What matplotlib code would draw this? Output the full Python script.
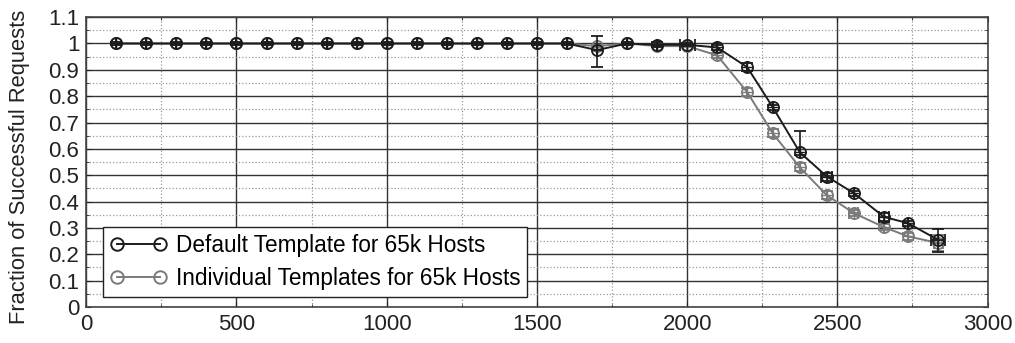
"""
Fraction of successful requests vs. request rate, default vs. individual templates.
"""
import numpy as np
import matplotlib.pyplot as plt
from matplotlib.lines import Line2D
from matplotlib.ticker import MultipleLocator

plt.rcParams["font.family"] = ["Liberation Sans", "DejaVu Sans"]
plt.rcParams["font.size"] = 14

# === Data ===
X = [100, 200, 300, 400, 500, 600, 700, 800, 900, 1000, 1100, 1200, 1300, 1400,
     1500, 1600, 1700, 1800, 1900, 2000, 2100, 2200, 2285, 2375, 2465, 2555,
     2655, 2735, 2835]

DEFAULT_Y = [1.0, 1.0, 1.0, 1.0, 1.0, 1.0, 1.0, 1.0, 1.0, 1.0, 1.0, 1.0, 1.0, 1.0,
             1.0, 1.0, 0.975, 1.0, 0.995, 0.995, 0.985, 0.91, 0.758, 0.587, 0.495,
             0.432, 0.342, 0.318, 0.255]
DEFAULT_YERR_LO = [0.005] * 16 + [0.065, 0.005, 0.01, 0.005, 0.01, 0.015, 0.01,
                                  0.01, 0.015, 0.01, 0.015, 0.01, 0.045]
DEFAULT_YERR_HI = [0.005] * 16 + [0.055, 0.005, 0.01, 0.005, 0.01, 0.015, 0.01,
                                  0.08, 0.015, 0.01, 0.015, 0.01, 0.04]
DEFAULT_XERR = [0] * 19 + [25, 0, 0, 0, 0, 18, 0, 18, 0, 22]

INDIV_Y = [1.0, 1.0, 1.0, 1.0, 1.0, 1.0, 1.0, 1.0, 1.0, 1.0, 1.0, 1.0, 1.0, 1.0,
           1.0, 1.0, 0.99, 1.0, 0.99, 0.99, 0.955, 0.815, 0.659, 0.53, 0.424,
           0.356, 0.303, 0.268, 0.243]
INDIV_YERR = [0.005] * 20 + [0.01, 0.015, 0.015, 0.015, 0.015, 0.012, 0.012,
                             0.012, 0.03]
INDIV_XERR = [0] * 25 + [15, 0, 0, 15]

LABELS = ["Default Template for 65k Hosts", "Individual Templates for 65k Hosts"]

DARK = "#1c1c1c"
GRAY = "#7a7a7a"


def draw_series(ax, y, yerr, xerr, color, z):
    ax.errorbar(X, y, yerr=yerr, xerr=xerr, fmt="-o", color=color, mfc="none",
                mec=color, ms=8, mew=1.3, lw=1.4, capsize=4, elinewidth=1.2,
                zorder=z)
    ax.plot(X, y, "+", color=color, ms=8, mew=1.0, zorder=z)


def main():
    fig, ax = plt.subplots(figsize=(10.15, 3.43), dpi=100)
    fig.subplots_adjust(left=0.085, right=0.973, top=0.95, bottom=0.105)

    draw_series(ax, INDIV_Y, INDIV_YERR, INDIV_XERR, GRAY, 3)
    draw_series(ax, DEFAULT_Y, [DEFAULT_YERR_LO, DEFAULT_YERR_HI], DEFAULT_XERR,
                DARK, 4)

    ax.set_xlim(0, 3000)
    ax.set_ylim(0, 1.1)
    ax.xaxis.set_major_locator(MultipleLocator(500))
    ax.xaxis.set_minor_locator(MultipleLocator(250))
    ax.yaxis.set_minor_locator(MultipleLocator(0.05))
    ax.set_yticks(np.arange(0, 1.11, 0.1))
    ax.set_yticklabels(["0", "0.1", "0.2", "0.3", "0.4", "0.5", "0.6", "0.7",
                        "0.8", "0.9", "1", "1.1"])

    ax.grid(which="major", color="#333333", linestyle="-", linewidth=1.0)
    ax.grid(which="minor", color="#999999", linestyle=":", linewidth=0.9)
    ax.set_axisbelow(True)
    ax.tick_params(which="both", direction="in", top=True, right=True,
                   labelsize=16, colors="#222222", pad=5)
    for sp in ax.spines.values():
        sp.set_color("#444444")
        sp.set_linewidth(1.2)

    ax.set_ylabel("Fraction of Successful Requests", fontsize=15.8,
                  color="#222222")
    ax.yaxis.set_label_coords(-0.062, 0.485)

    handles = [
        Line2D([], [], color=DARK, marker="o", mfc="none", mec=DARK, ms=9,
               mew=1.4, lw=1.4),
        Line2D([], [], color=GRAY, marker="o", mfc="none", mec=GRAY, ms=9,
               mew=1.4, lw=1.4),
    ]
    leg = ax.legend(handles, LABELS, loc="lower left",
                    bbox_to_anchor=(0.019, 0.034), numpoints=2, fontsize=16.3,
                    fancybox=False, edgecolor="#222222", framealpha=1,
                    borderpad=0.3, handlelength=2.5, handletextpad=0.4,
                    labelspacing=0.45, borderaxespad=0)
    leg.get_frame().set_linewidth(1.0)

    fig.savefig("out.png", dpi=100)


if __name__ == "__main__":
    main()
